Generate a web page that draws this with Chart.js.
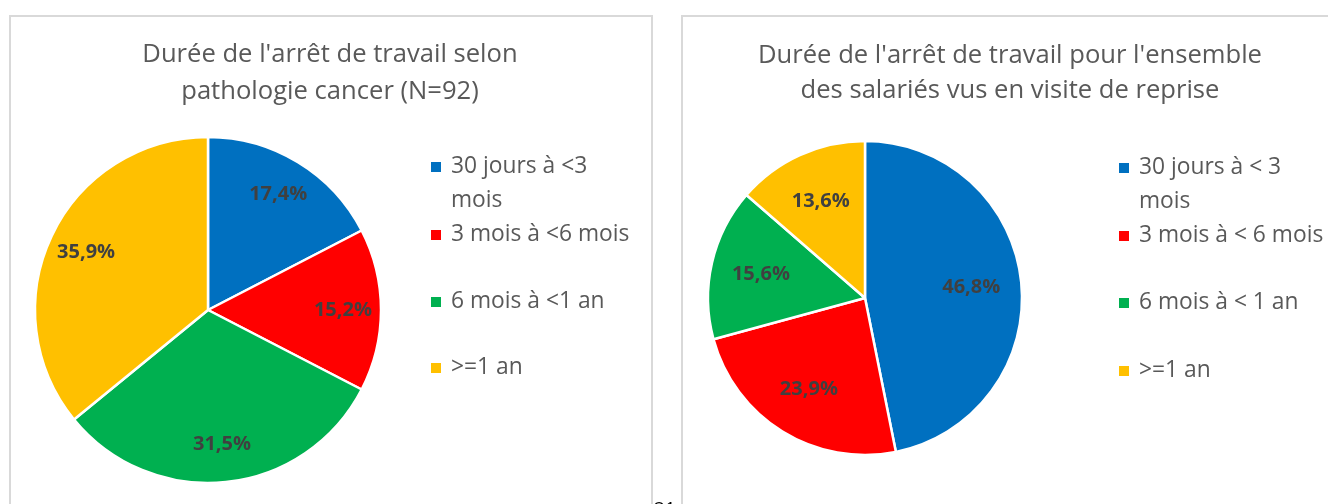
<!DOCTYPE html>
<html>
<head>
<meta charset="utf-8">
<script src="https://cdn.jsdelivr.net/npm/chart.js@4.4.1/dist/chart.umd.min.js"></script>
<style>
  body { margin: 0; background: #fff; width: 1328px; height: 504px; overflow: hidden; position: relative; }
  .box { position: absolute; border: 2px solid #d9d9d9; box-sizing: border-box; }
  canvas { position: absolute; top: 0; }
  #pageNum { position: absolute; left: 654px; top: 495px; font: 19px "Open Sans", sans-serif; color: #000; }
</style>
</head>
<body>
<div class="box" style="left:9px; top:15px; width:644px; height:600px;"></div>
<div class="box" style="left:681px; top:15px; width:700px; height:600px;"></div>
<canvas id="pieLeft" style="left:0px"></canvas>
<canvas id="pieRight" style="left:668px"></canvas>
<div id="pageNum">21</div>
<script>
const colors = ['#0070C0', '#FF0000', '#00B050', '#FFC000'];

const titleLeft = ["Durée de l'arrêt de travail selon", 'pathologie cancer (N=92)'];
const labelsLeft = [['30 jours à <3', 'mois'], '3 mois à <6 mois', '6 mois à <1 an', '>=1 an'];
const valuesLeft = [17.4, 15.2, 31.5, 35.9];

const titleRight = ["Durée de l'arrêt de travail pour l'ensemble", 'des salariés vus en visite de reprise'];
const labelsRight = [['30 jours à < 3', 'mois'], '3 mois à < 6 mois', '6 mois à < 1 an', '>=1 an'];
const valuesRight = [46.8, 23.9, 15.6, 13.6];

// titles, percentage labels and the right-hand legend (Excel look)
const excelPie = {
    id: 'excelPie',
    afterDraw(chart, args, opts) {
        const ctx = chart.ctx;
        ctx.save();
        ctx.fillStyle = '#595959';
        ctx.textAlign = 'center';
        ctx.textBaseline = 'middle';
        ctx.font = '25.6px "Open Sans"';
        opts.title.forEach(function(line, i) {
            ctx.fillText(line, opts.titleX, opts.titleY[i]);
        });

        // values on slices
        const meta = chart.getDatasetMeta(0);
        ctx.font = 'bold 20px "Open Sans"';
        ctx.fillStyle = '#404040';
        meta.data.forEach(function(arc, i) {
            const p = arc.getProps(['x', 'y', 'startAngle', 'endAngle', 'outerRadius'], true);
            const mid = (p.startAngle + p.endAngle) / 2;
            const r = p.outerRadius * opts.labelPos;
            const v = chart.data.datasets[0].data[i];
            ctx.fillText(v.toFixed(1).replace('.', ',') + '%', p.x + Math.cos(mid) * r, p.y + Math.sin(mid) * r);
        });

        // legend
        ctx.textAlign = 'left';
        ctx.font = '22.8px "Open Sans"';
        chart.data.labels.forEach(function(lbl, i) {
            const y = opts.legendY[i];
            ctx.fillStyle = colors[i];
            ctx.fillRect(opts.legendX, y - 5, 10, 10);
            ctx.fillStyle = '#595959';
            const lines = Array.isArray(lbl) ? lbl : [lbl];
            lines.forEach(function(t, j) {
                ctx.fillText(t, opts.legendX + 20, y + j * 34);
            });
        });
        ctx.restore();
    }
};

function makePie(id, labels, values, radius, padding, extra) {
    const ctx = document.getElementById(id).getContext('2d');
    return new Chart(ctx, {
        type: 'pie',
        data: {
            labels: labels,
            datasets: [{
                data: values,
                backgroundColor: colors,
                borderColor: '#ffffff',
                borderWidth: 2.5
            }]
        },
        options: {
            responsive: false,
            animation: false,
            radius: radius,
            layout: { padding: padding },
            plugins: {
                legend: { display: false },
                title: { display: false },
                tooltip: { enabled: false },
                excelPie: extra
            }
        },
        plugins: [excelPie]
    });
}

document.getElementById('pieLeft').width = 660;
document.getElementById('pieLeft').height = 504;
document.getElementById('pieRight').width = 660;
document.getElementById('pieRight').height = 504;

makePie('pieLeft', labelsLeft, valuesLeft, 173,
    { left: 35, top: 137, right: 279, bottom: 21 },
    { title: titleLeft, titleX: 330, titleY: [55, 92], labelPos: 0.78, legendX: 431, legendY: [167, 235, 302, 368] });

makePie('pieRight', labelsRight, valuesRight, 157,
    { left: 40, top: 141, right: 306, bottom: 49 },
    { title: titleRight, titleX: 342, titleY: [56, 91], labelPos: 0.68, legendX: 451, legendY: [168, 236, 303, 371] });
</script>
</body>
</html>
